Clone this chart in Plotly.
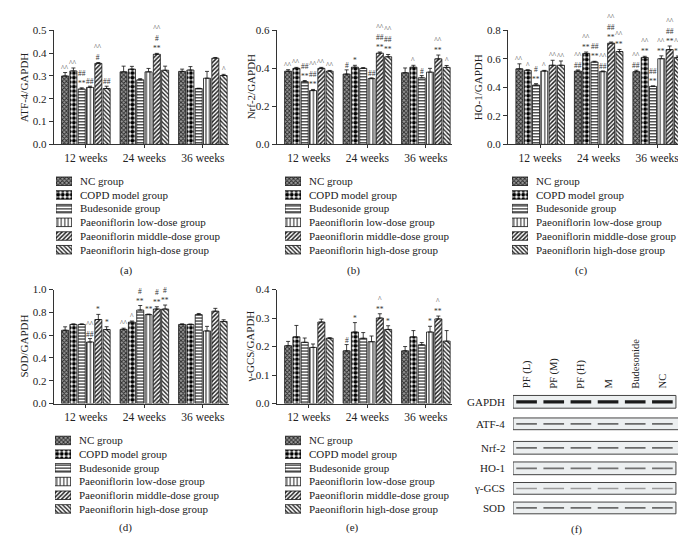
import plotly.graph_objects as go

W, H = 686, 548
FONT = "Liberation Serif"

# ---------------- data ----------------
groups = ["12 weeks", "24 weeks", "36 weeks"]
series = ["NC group", "COPD model group", "Budesonide group",
          "Paeoniflorin low-dose group", "Paeoniflorin middle-dose group",
          "Paeoniflorin high-dose group"]

# each row = one series, values for 12 / 24 / 36 weeks
atf4 = [[0.300, 0.318, 0.320], [0.322, 0.330, 0.326], [0.243, 0.283, 0.245],
        [0.250, 0.318, 0.290], [0.355, 0.395, 0.378], [0.245, 0.325, 0.302]]
atf4_err = [[0.015, 0.025, 0.010], [0.013, 0.012, 0.015], [0.005, 0.005, 0.001],
            [0.005, 0.015, 0.030], [0.004, 0.004, 0.003], [0.010, 0.018, 0.005]]
atf4_sig = [["^^", "", ""], ["^^", "", ""], ["##\n**", "", ""],
            ["##", "", ""], ["^^\n#", "^^\n#\n**", ""], ["##", "", "^"]]

nrf2 = [[0.385, 0.370, 0.377], [0.400, 0.406, 0.406], [0.330, 0.400, 0.350],
        [0.283, 0.346, 0.380], [0.400, 0.480, 0.450], [0.385, 0.461, 0.405]]
nrf2_err = [[0.008, 0.022, 0.025], [0.005, 0.010, 0.010], [0.006, 0.004, 0.012],
            [0.006, 0.004, 0.020], [0.005, 0.006, 0.020], [0.004, 0.012, 0.010]]
nrf2_sig = [["^^", "#", ""], ["^^", "*", "^"], ["##\n**", "", "#"],
            ["^^\n##\n**", "##", ""], ["^^", "^^\n##\n**", "^^\n**"],
            ["^^", "^^\n##\n**", "^"]]

ho1 = [[0.530, 0.514, 0.510], [0.519, 0.638, 0.610], [0.416, 0.578, 0.407],
       [0.514, 0.510, 0.601], [0.555, 0.710, 0.665], [0.555, 0.651, 0.610]]
ho1_err = [[0.035, 0.008, 0.010], [0.005, 0.010, 0.008], [0.010, 0.005, 0.003],
           [0.005, 0.005, 0.020], [0.035, 0.008, 0.025], [0.030, 0.015, 0.010]]
ho1_sig = [["^^", "^^\n##", "^^\n##"], ["^", "^^\n**", "^^\n**"],
           ["#\n**", "##\n**", "##\n**"], ["^", "^^\n##", "^^\n**"],
           ["^^", "^^\n##\n**", "^^\n##\n**"], ["^^", "^^\n**", "^^\n**"]]

sod = [[0.643, 0.651, 0.694], [0.694, 0.714, 0.694], [0.694, 0.820, 0.780],
       [0.540, 0.780, 0.637], [0.737, 0.829, 0.810], [0.649, 0.829, 0.720]]
sod_err = [[0.030, 0.010, 0.005], [0.005, 0.010, 0.003], [0.005, 0.040, 0.010],
           [0.030, 0.005, 0.040], [0.045, 0.020, 0.025], [0.025, 0.035, 0.015]]
sod_sig = [["", "^^", ""], ["", "^", ""], ["", "#\n**", ""],
           ["^^\n##", "**", ""], ["*", "#\n**", ""], ["*", "#\n**", ""]]

gcs = [[0.203, 0.185, 0.185], [0.234, 0.251, 0.234], [0.215, 0.229, 0.206],
       [0.197, 0.217, 0.251], [0.286, 0.300, 0.297], [0.229, 0.260, 0.219]]
gcs_err = [[0.015, 0.022, 0.015], [0.040, 0.033, 0.022], [0.015, 0.020, 0.008],
           [0.012, 0.020, 0.020], [0.010, 0.015, 0.010], [0.002, 0.013, 0.037]]
gcs_sig = [["", "#", ""], ["", "*", ""], ["", "", ""],
           ["", "", "*"], ["", "^\n**", "^\n**"], ["", "*", ""]]

blot_lanes = ["PF (L)", "PF (M)", "PF (H)", "M", "Budesonide", "NC"]
blot_rows = ["GAPDH", "ATF-4", "Nrf-2", "HO-1", "γ-GCS", "SOD"]

# ---------------- styles ----------------
patterns = [
    dict(shape="x", bgcolor="#9a9a9a", fgcolor="#2a2a2a", size=3, solidity=0.5),
    dict(shape=".", bgcolor="white", fgcolor="black", size=4.5, solidity=0.6),
    dict(shape="-", bgcolor="white", fgcolor="black", size=3, solidity=0.35),
    dict(shape="|", bgcolor="white", fgcolor="black", size=3.5, solidity=0.25),
    dict(shape="/", bgcolor="white", fgcolor="#222", size=3, solidity=0.5),
    dict(shape="\\", bgcolor="white", fgcolor="#222", size=3, solidity=0.45),
]


def px_x(x):
    return x / W


def px_y(y):
    return 1 - y / H


# panel geometry (pixels)
panels = [
    dict(lab="ATF-4/GAPDH", v=atf4, e=atf4_err, s=atf4_sig, ymax=0.5, dt=0.1,
         ax=45.7, top=16.7, bot=133.3, tx=16, cap="(a)", capx=118, capy=262,
         lgx=48, lgy=171),
    dict(lab="Nrf-2/GAPDH", v=nrf2, e=nrf2_err, s=nrf2_sig, ymax=0.6, dt=0.2,
         ax=268.7, top=16.7, bot=133.3, tx=243, cap="(b)", capx=345, capy=262,
         lgx=277, lgy=171),
    dict(lab="HO-1/GAPDH", v=ho1, e=ho1_err, s=ho1_sig, ymax=0.8, dt=0.2,
         ax=500, top=16.7, bot=133.3, tx=470, cap="(c)", capx=573, capy=262,
         lgx=504, lgy=171),
    dict(lab="SOD/GAPDH", v=sod, e=sod_err, s=sod_sig, ymax=1.0, dt=0.2,
         ax=45.7, top=281.7, bot=398.3, tx=16, cap="(d)", capx=117, capy=525,
         lgx=47, lgy=436),
    dict(lab="γ-GCS/GAPDH", v=gcs, e=gcs_err, s=gcs_sig, ymax=0.4, dt=0.1,
         ax=268.7, top=281.7, bot=398.3, tx=242, cap="(e)", capx=344, capy=525,
         lgx=277, lgy=436),
]

XR = [-0.55, 2.45]
UNIT = 58.5          # px per group
PITCH = 0.142        # bar pitch inside group
BW = 0.12            # bar width
SW_W = 16            # legend swatch width px
ROW = 14             # legend row spacing px

fig = go.Figure()
layout = dict(width=W, height=H, margin=dict(l=0, r=0, t=0, b=0),
              paper_bgcolor="white", plot_bgcolor="white", barmode="overlay",
              showlegend=False, font=dict(family=FONT, size=11, color="#222"))
annotations = []
shapes = []

for p_i, P in enumerate(panels):
    n = p_i + 1
    xa = "x" if n == 1 else f"x{n}"
    ya = "y" if n == 1 else f"y{n}"
    x0 = P["ax"]
    x1 = x0 + UNIT * (XR[1] - XR[0])
    layout["xaxis" if n == 1 else f"xaxis{n}"] = dict(
        domain=[px_x(x0), px_x(x1)], range=XR, anchor=ya,
        tickvals=[0, 1, 2], ticktext=groups, ticks="outside", ticklen=3,
        tickcolor="#333", showline=True, linecolor="#333", linewidth=1,
        showgrid=False, zeroline=False, tickfont=dict(size=11.5, family=FONT))
    layout["yaxis" if n == 1 else f"yaxis{n}"] = dict(
        domain=[px_y(P["bot"]), px_y(P["top"])], range=[0, P["ymax"]],
        anchor=xa, dtick=P["dt"], tick0=0, tickformat=".1f", ticks="outside",
        ticklen=4, tickcolor="#333", showline=True, linecolor="#333",
        linewidth=1, showgrid=False, zeroline=False,
        tickfont=dict(size=11, family=FONT))
    for i in range(6):
        fig.add_trace(go.Bar(
            x=[0, 1, 2], y=P["v"][i], width=BW,
            offset=(i - 2.5) * PITCH - BW / 2, xaxis=xa, yaxis=ya,
            name=series[i],
            marker=dict(color=patterns[i]["bgcolor"],
                        line=dict(color="#111", width=0.8),
                        pattern=dict(fillmode="replace", **patterns[i])),
            error_y=dict(type="data", symmetric=False, array=P["e"][i],
                         arrayminus=[0, 0, 0], color="#111", thickness=0.8,
                         width=2)))
        for g in range(3):
            txt = P["s"][i][g]
            if txt:
                annotations.append(dict(
                    x=g + (i - 2.5) * PITCH, y=P["v"][i][g] + P["e"][i][g],
                    xref=xa, yref=ya, text=txt.replace("\n", "<br>"),
                    showarrow=False, yanchor="bottom", xanchor="center",
                    font=dict(size=7.5, family=FONT, color="#333"),
                    borderpad=0, yshift=-1))
    # y title
    annotations.append(dict(x=px_x(P["tx"]), y=px_y((P["top"] + P["bot"]) / 2),
                            xref="paper", yref="paper", text=P["lab"],
                            textangle=-90, showarrow=False,
                            xanchor="center", yanchor="middle",
                            font=dict(size=11, family=FONT)))
    # caption
    annotations.append(dict(x=px_x(P["capx"]), y=px_y(P["capy"]), xref="paper",
                            yref="paper", text=P["cap"], showarrow=False,
                            xanchor="center", yanchor="middle",
                            font=dict(size=11, family=FONT)))
    # legend as a small axis of horizontal swatch bars
    m = n + 5
    lxa, lya = f"x{m}", f"y{m}"
    ly0 = P["lgy"] - ROW / 2
    ly1 = ly0 + ROW * 6
    layout[f"xaxis{m}"] = dict(domain=[px_x(P["lgx"]), px_x(P["lgx"] + SW_W)],
                               range=[0, 1], visible=False, anchor=lya)
    layout[f"yaxis{m}"] = dict(domain=[px_y(ly1), px_y(ly0)],
                               range=[5.5, -0.5], anchor=lxa, side="right",
                               tickvals=list(range(6)), ticktext=series,
                               ticks="", showline=False, showgrid=False,
                               zeroline=False, ticklabelstandoff=7,
                               tickfont=dict(size=11, family=FONT))
    for i in range(6):
        fig.add_trace(go.Bar(
            x=[1], y=[i], base=0, orientation="h", width=0.62, offset=-0.31,
            xaxis=lxa, yaxis=lya, name=series[i],
            marker=dict(color=patterns[i]["bgcolor"],
                        line=dict(color="#111", width=0.8),
                        pattern=dict(fillmode="replace", **patterns[i]))))

# ---------------- western blot panel (f) ----------------
row_y = [396.5, 419, 443.5, 464.5, 485, 505]      # frame centre (px)
row_h = [13, 12, 13, 13, 12, 12]
row_right = [5.5, 5.87, 5.87, 5.5, 5.5, 5.5]        # frame right edge, lane units
band_col = ["#1a1a1a", "#6a6a6a", "#6a6a6a", "#707070", "#9a9a9a", "#6a6a6a"]
band_w = [3.2, 1.8, 1.8, 1.8, 1.5, 1.8]

layout["xaxis11"] = dict(domain=[px_x(505), px_x(678)], range=[-0.5, 5.87],
                         visible=False, anchor="y11")
layout["yaxis11"] = dict(domain=[px_y(515), px_y(386)], range=[515, 386],
                         visible=False, anchor="x11")
for r, name in enumerate(blot_rows):
    shapes.append(dict(type="rect", xref="x11", yref="y11", x0=-0.5,
                       x1=row_right[r], y0=row_y[r] - row_h[r] / 2,
                       y1=row_y[r] + row_h[r] / 2, fillcolor="#eceff0",
                       line=dict(color="#444", width=1), layer="below"))
    bx, by = [], []
    for l in range(len(blot_lanes)):
        bx += [l - 0.38, l + 0.38, None]
        by += [row_y[r], row_y[r], None]
    fig.add_trace(go.Scatter(x=bx, y=by, mode="lines", xaxis="x11",
                             yaxis="y11", line=dict(color=band_col[r],
                                                    width=band_w[r]),
                             hoverinfo="skip"))
    annotations.append(dict(x=px_x(499), y=px_y(row_y[r]), xref="paper",
                            yref="paper", text=name, showarrow=False,
                            xanchor="right", yanchor="middle",
                            font=dict(size=11, family=FONT)))
for l, lane in enumerate(blot_lanes):
    annotations.append(dict(x=l, y=386, xref="x11", yref="y11", text=lane,
                            textangle=-90, showarrow=False, yanchor="bottom",
                            xanchor="center", yshift=1,
                            font=dict(size=10.5, family=FONT)))
annotations.append(dict(x=px_x(568), y=px_y(527), xref="paper", yref="paper",
                        text="(f)", showarrow=False, xanchor="center",
                        yanchor="middle", font=dict(size=11, family=FONT)))

layout["annotations"] = annotations
layout["shapes"] = shapes
fig.update_layout(**layout)
fig.write_html("out.html")
